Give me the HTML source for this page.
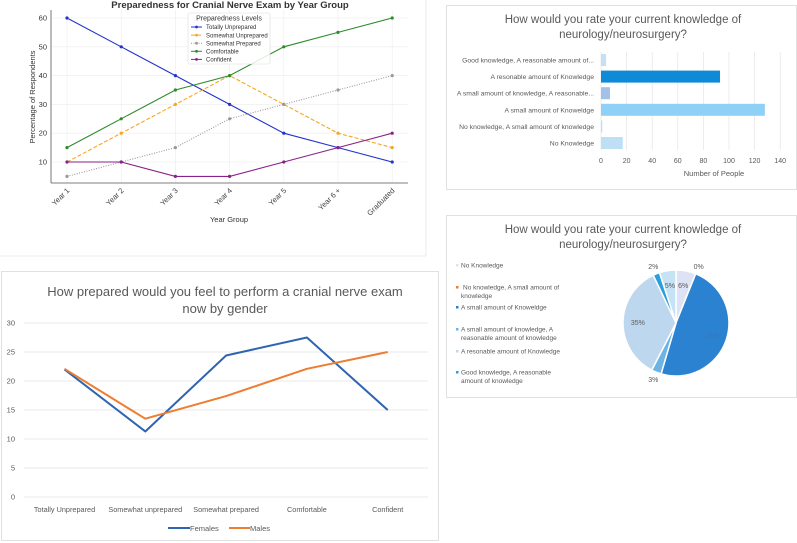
<!DOCTYPE html>
<html><head><meta charset="utf-8"><style>
html,body{margin:0;padding:0;background:#fff;}
svg{display:block;font-family:"Liberation Sans",sans-serif;}
</style></head><body>
<svg id="root" width="797" height="543" viewBox="0 0 797 543">
<rect x="0" y="0" width="797" height="543" fill="#fff"/>
<g id="c1"></g>
<g id="c2"></g>
<g id="c3"></g>
<g id="c4"></g>
</svg>
<script>
// ---- Chart 1 data
const c1Categories = ["Year 1","Year 2","Year 3","Year 4","Year 5","Year 6 +","Graduated"];
const c1SeriesNames = ["Totally Unprepared","Somewhat Unprepared","Somewhat Prepared","Comfortable","Confident"];
const c1Totally = [60,50,40,30,20,15,10];
const c1SomewhatUnprep = [10,20,30,40,30,20,15];
const c1SomewhatPrep = [5,10,15,25,30,35,40];
const c1Comfortable = [15,25,35,40,50,55,60];
const c1Confident = [10,10,5,5,10,15,20];
const c1Ticks = [10,20,30,40,50,60];
// ---- Chart 2 data
const c2Categories = ["Good knowledge, A reasonable amount of...","A resonable amount of Knowledge","A small amount of knowledge,  A reasonable...","A small amount of Knoweldge","No knowledge, A small amount of knowledge","No Knowledge"];
const c2Values = [4,93,7,128,1,17];
const c2Ticks = [0,20,40,60,80,100,120,140];
// ---- Chart 3 data
const c3Legend = ["No Knowledge","No knowledge, A small amount of|knowledge","A small amount of Knoweldge","A small amount of knowledge,  A|reasonable amount of knowledge","A resonable amount of Knowledge","Good knowledge, A reasonable|amount of knowledge"];
const c3Values = [6,0,48,3,35,2,5];
const c3Labels = ["6%","0%","48%","3%","35%","2%","5%"];
// ---- Chart 4 data
const c4Categories = ["Totally Unprepared","Somewhat unprepared","Somewhat prepared","Comfortable","Confident"];
const c4Females = [22,11.3,24.4,27.5,15];
const c4Males = [22.1,13.5,17.4,22.1,25];
const c4Ticks = [0,5,10,15,20,25,30];

const NS="http://www.w3.org/2000/svg";
function mk(p,tag,at,txt){const e=document.createElementNS(NS,tag);for(const k in at)e.setAttribute(k,at[k]);if(txt!==undefined)e.textContent=txt;p.appendChild(e);return e;}

// ================= Chart 1
(function(){
const g=document.getElementById('c1');
const x=i=>67+i*54.2, y=v=>162-(v-10)*2.88;
const L=51,R=408,T=10,B=183;
for(const t of c1Ticks){const l=mk(g,'line',{x1:L,x2:R,y1:y(t),y2:y(t),stroke:'#ececec','stroke-width':0.6});

const tx=mk(g,'text',{x:L-4,y:y(t)+2.5,'text-anchor':'end','font-size':7.5,fill:'#333'},t);
}
c1Categories.forEach((c,i)=>{mk(g,'line',{x1:x(i),x2:x(i),y1:T,y2:B,stroke:'#ececec','stroke-width':0.6});
const tx=mk(g,'text',{x:x(i)+3,y:B+8,'text-anchor':'end','font-size':7.5,fill:'#444',transform:`rotate(-45 ${x(i)+3} ${B+8})`},c);
});
mk(g,'line',{x1:L,x2:L,y1:T,y2:B,stroke:'#555','stroke-width':0.8});
mk(g,'line',{x1:L,x2:R,y1:B,y2:B,stroke:'#555','stroke-width':0.8});
const series=[c1Totally,c1SomewhatUnprep,c1SomewhatPrep,c1Comfortable,c1Confident];
const cols=['#2233cc','#f5a623','#999999','#2e8b2e','#882288'];
const dash=['','4,2','1,1.5','',''];
series.forEach((s,k)=>{
const pl=mk(g,'polyline',{points:s.map((v,i)=>x(i)+','+y(v)).join(' '),fill:'none',stroke:cols[k],'stroke-width':1.1,'stroke-dasharray':dash[k]});

s.forEach((v,i)=>{const c=mk(g,'circle',{cx:x(i),cy:y(v),r:1.6,fill:cols[k]});});
});
const t=mk(g,'text',{x:230,y:8,'text-anchor':'middle','font-size':9.5,'font-weight':'bold',fill:'#333'},'Preparedness for Cranial Nerve Exam by Year Group');

const yl=mk(g,'text',{x:35,y:97,'text-anchor':'middle','font-size':7.5,fill:'#333',transform:'rotate(-90 35 97)'},'Percentage of Respondents');

const xl=mk(g,'text',{x:229,y:222,'text-anchor':'middle','font-size':7.5,fill:'#333'},'Year Group');

const lg=mk(g,'g',{});
mk(lg,'rect',{x:188,y:13,width:82,height:51,fill:'#fff','fill-opacity':0.85,stroke:'#ddd','stroke-width':0.6,rx:2});
mk(lg,'text',{x:229,y:20.5,'text-anchor':'middle','font-size':7,fill:'#333'},'Preparedness Levels');
c1SeriesNames.forEach((n,k)=>{const yy=27+k*8.1;
mk(lg,'line',{x1:191,x2:202,y1:yy,y2:yy,stroke:cols[k],'stroke-width':1,'stroke-dasharray':dash[k]});
mk(lg,'circle',{cx:196.5,cy:yy,r:1.4,fill:cols[k]});
const e=mk(lg,'text',{x:206,y:yy+2.2,'font-size':6,fill:'#333'},n);});
mk(g,'line',{x1:0,x2:426,y1:256,y2:256,stroke:'#e6e6e6','stroke-width':0.8});
mk(g,'line',{x1:426,x2:426,y1:0,y2:256,stroke:'#e6e6e6','stroke-width':0.8});
})();

// ================= Chart 2
(function(){
const g=document.getElementById('c2');
mk(g,'rect',{x:446.5,y:5.5,width:350,height:184,fill:'#fff',stroke:'#d9d9d9','stroke-width':0.8});
const t=mk(g,'text',{x:623,y:23,'text-anchor':'middle','font-size':11.5,fill:'#595959'});

mk(t,'tspan',{x:623,dy:0},'How would you rate your current knowledge of');
mk(t,'tspan',{x:623,dy:15},'neurology/neurosurgery?');
const x=v=>601+v*1.28, y=i=>60+i*16.6;
for(const tk of c2Ticks){const l=mk(g,'line',{x1:x(tk),x2:x(tk),y1:52,y2:150,stroke:'#e4e4e4','stroke-width':0.7});

const tx=mk(g,'text',{x:x(tk),y:163,'text-anchor':'middle','font-size':7,fill:'#595959'},tk);
}
const cols=['#c5e0f5','#0f8ad6','#a3c0ea','#8fd0f7','#bde0f5','#bde0f5'];
c2Values.forEach((v,i)=>{const r=mk(g,'rect',{x:x(0),y:y(i)-6,width:Math.max(x(v)-x(0),0.8),height:12,fill:cols[i]});

const tx=mk(g,'text',{x:594,y:y(i)+2.5,'text-anchor':'end','font-size':6.8,fill:'#595959'},c2Categories[i]);
});
const xl=mk(g,'text',{x:714,y:176,'text-anchor':'middle','font-size':7.5,fill:'#595959'},'Number of People');

})();

// ================= Chart 3
(function(){
const g=document.getElementById('c3');
mk(g,'rect',{x:446.5,y:215.5,width:350,height:182,fill:'#fff',stroke:'#d9d9d9','stroke-width':0.8});
const t=mk(g,'text',{x:623,y:233,'text-anchor':'middle','font-size':11.5,fill:'#595959'});

mk(t,'tspan',{x:623,dy:0},'How would you rate your current knowledge of');
mk(t,'tspan',{x:623,dy:15},'neurology/neurosurgery?');
const legCols=['#dde3f4','#ed7d31','#2a82d0','#6cb4e4','#bdd7ee','#2c9fd9'];
const legY=[267,289,309,331,353,374];
c3Legend.forEach((n,i)=>{const parts=n.split('|');
mk(g,'rect',{x:456,y:legY[i]-3,width:2.5,height:2.5,fill:legCols[i]});
const tx=mk(g,'text',{x:461,y:legY[i]+0.5,'font-size':6.5,fill:'#595959'});

parts.forEach((p,j)=>mk(tx,'tspan',{x:j?461:(i==1?463:461),dy:j?8.5:0},p));});
const cx=676,cy=323,r=53;
const sliceCols=['#dde3f4','#ed7d31','#2a82d0','#6cb4e4','#bdd7ee','#2c9fd9','#c6e2f5'];
const tot=c3Values.reduce((a,b)=>a+b,0);
let a0=0;
c3Values.forEach((v,i)=>{const a1=a0+v/tot*2*Math.PI;
const p=(a)=>[cx+r*Math.sin(a),cy-r*Math.cos(a)];
const [x0,y0]=p(a0),[x1,y1]=p(a1);
const large=(a1-a0)>Math.PI?1:0;
const pa=mk(g,'path',{d:`M${cx},${cy} L${x0},${y0} A${r},${r} 0 ${large} 1 ${x1},${y1} Z`,fill:sliceCols[i],stroke:'#fff','stroke-width':1.5});

const mid=(a0+a1)/2;const small=v<4;const lr=small?r+8:r*0.72;
const lx=cx+lr*Math.sin(mid),ly=cy-lr*Math.cos(mid);
const tx=mk(g,'text',{x:lx,y:ly+2.5,'text-anchor':'middle','font-size':7,fill:i==2?'#3a78b8':'#595959'},c3Labels[i]);

a0=a1;});
})();

// ================= Chart 4
(function(){
const g=document.getElementById('c4');
mk(g,'rect',{x:1.5,y:271.5,width:437,height:269,fill:'#fff',stroke:'#d9d9d9','stroke-width':0.8});
const t=mk(g,'text',{x:225,y:296,'text-anchor':'middle','font-size':13,fill:'#595959'});

mk(t,'tspan',{x:225,dy:0},'How prepared would you feel to perform a cranial nerve exam');
mk(t,'tspan',{x:225,dy:17},'now by gender');
const x=i=>64.5+i*80.8, y=v=>497-v*5.8;
for(const tk of c4Ticks){const l=mk(g,'line',{x1:24,x2:428,y1:y(tk),y2:y(tk),stroke:'#e0e0e0','stroke-width':0.8});

const tx=mk(g,'text',{x:15,y:y(tk)+2.5,'text-anchor':'end','font-size':7.5,fill:'#595959'},tk);
}
c4Categories.forEach((c,i)=>{const tx=mk(g,'text',{x:x(i),y:512,'text-anchor':'middle','font-size':7.3,fill:'#595959'},c);
});
const f=mk(g,'polyline',{points:c4Females.map((v,i)=>x(i)+','+y(v)).join(' '),fill:'none',stroke:'#2e64b0','stroke-width':2,'stroke-linejoin':'round'});

const m=mk(g,'polyline',{points:c4Males.map((v,i)=>x(i)+','+y(v)).join(' '),fill:'none',stroke:'#ed7d31','stroke-width':2,'stroke-linejoin':'round'});

mk(g,'line',{x1:168,x2:190,y1:528,y2:528,stroke:'#2e64b0','stroke-width':2});
const l1=mk(g,'text',{x:190,y:531,'font-size':7.5,fill:'#595959'},'Females');
mk(g,'line',{x1:229,x2:250,y1:528,y2:528,stroke:'#ed7d31','stroke-width':2});
const l2=mk(g,'text',{x:250,y:531,'font-size':7.5,fill:'#595959'},'Males');
})();
</script>
</body></html>
